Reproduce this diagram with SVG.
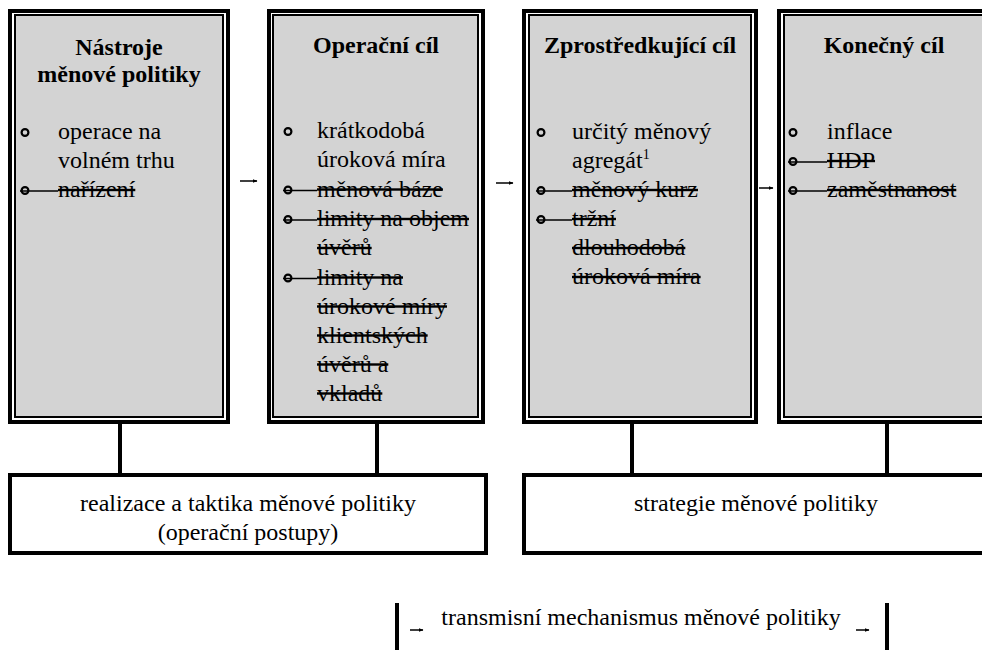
<svg xmlns="http://www.w3.org/2000/svg" width="982" height="650" viewBox="0 0 982 650">
<defs>
<style>
.t{font-family:"Liberation Serif","Times New Roman",serif;font-size:24px;fill:#000}
.b{font-weight:bold}
.m{text-anchor:middle}
.s{text-decoration:line-through}
.bul{fill:none;stroke:#000;stroke-width:2.2}
.sl{stroke:#000;stroke-width:1.5}
.outer{fill:none;stroke:#000;stroke-width:4}
.inner{fill:#d3d3d3;stroke:#000;stroke-width:2}
.con{stroke:#000;stroke-width:4;fill:none}
.arr{stroke:#000;stroke-width:1.5;fill:none;marker-end:url(#ah)}
.lbl{fill:#fff;stroke:#000;stroke-width:4}
</style>
<marker id="ah" viewBox="0 0 10 10" refX="9" refY="5" markerWidth="5" markerHeight="5" orient="auto" markerUnits="userSpaceOnUse"><path d="M0,1 L10,5 L0,9 z" fill="#000"/></marker>
</defs>
<rect width="982" height="650" fill="#fff"/>

<g id="connectors">
<line class="con" x1="120" y1="424" x2="120" y2="475"/>
<line class="con" x1="377" y1="424" x2="377" y2="475"/>
<line class="con" x1="632" y1="424" x2="632" y2="475"/>
<line class="con" x1="887" y1="424" x2="887" y2="475"/>
<line class="arr" x1="240" y1="181" x2="257" y2="181"/>
<line class="arr" x1="496" y1="183" x2="513" y2="183"/>
<line class="arr" x1="759" y1="188" x2="773" y2="188"/>
</g>

<g id="nastroje">
<rect class="outer" x="10" y="11" width="218" height="411"/>
<rect class="inner" x="15" y="15" width="208" height="402"/>
<text class="t b m" x="119" y="55">Nástroje</text>
<text class="t b m" x="119" y="82">měnové politiky</text>
<circle class="bul" cx="25" cy="132.5" r="3.4"/>
<text class="t" x="58" y="139">operace na</text>
<text class="t" x="58" y="168">volném trhu</text>
<circle class="bul" cx="25" cy="190.5" r="3.4"/>
<line class="sl" x1="20" y1="191" x2="58" y2="191"/>
<text class="t s" x="58" y="197">nařízení</text>
</g>

<g id="operacni-cil">
<rect class="outer" x="269" y="11" width="214" height="411"/>
<rect class="inner" x="273" y="15" width="205" height="402"/>
<text class="t b m" x="376" y="53">Operační cíl</text>
<circle class="bul" cx="288" cy="131.5" r="3.4"/>
<text class="t" x="317" y="138">krátkodobá</text>
<text class="t" x="317" y="167">úroková míra</text>
<circle class="bul" cx="288" cy="190" r="3.4"/>
<line class="sl" x1="283" y1="190.5" x2="317" y2="190.5"/>
<text class="t s" x="317" y="196.5">měnová báze</text>
<circle class="bul" cx="288" cy="219.5" r="3.4"/>
<line class="sl" x1="283" y1="220" x2="317" y2="220"/>
<text class="t s" x="317" y="226">limity na objem</text>
<text class="t s" x="317" y="255">úvěrů</text>
<circle class="bul" cx="288" cy="278" r="3.4"/>
<line class="sl" x1="283" y1="278.5" x2="317" y2="278.5"/>
<text class="t s" x="317" y="284.5">limity na</text>
<text class="t s" x="317" y="313.5">úrokové míry</text>
<text class="t s" x="317" y="342.5">klientských</text>
<text class="t s" x="317" y="371.5">úvěrů a</text>
<text class="t s" x="317" y="400.5">vkladů</text>
</g>

<g id="zprostredkujici-cil">
<rect class="outer" x="524" y="11" width="232" height="411"/>
<rect class="inner" x="529" y="15" width="222" height="402"/>
<text class="t b m" x="640" y="53">Zprostředkující cíl</text>
<circle class="bul" cx="541" cy="132.5" r="3.4"/>
<text class="t" x="572" y="139">určitý měnový</text>
<text class="t" x="572" y="168">agregát<tspan font-size="14" dy="-9">1</tspan></text>
<circle class="bul" cx="541" cy="190.5" r="3.4"/>
<line class="sl" x1="536" y1="191" x2="572" y2="191"/>
<text class="t s" x="572" y="197">měnový kurz</text>
<circle class="bul" cx="541" cy="219.5" r="3.4"/>
<line class="sl" x1="536" y1="220" x2="572" y2="220"/>
<text class="t s" x="572" y="226">tržní</text>
<text class="t s" x="572" y="255">dlouhodobá</text>
<text class="t s" x="572" y="284">úroková míra</text>
</g>

<g id="konecny-cil">
<rect class="outer" x="779" y="11" width="240" height="411"/>
<rect class="inner" x="784" y="15" width="230" height="402"/>
<text class="t b m" x="884" y="53">Konečný cíl</text>
<circle class="bul" cx="793" cy="132.5" r="3.4"/>
<text class="t" x="827" y="139">inflace</text>
<circle class="bul" cx="793" cy="161.5" r="3.4"/>
<line class="sl" x1="788" y1="162" x2="827" y2="162"/>
<text class="t s" x="827" y="168">HDP</text>
<circle class="bul" cx="793" cy="190.5" r="3.4"/>
<line class="sl" x1="788" y1="191" x2="827" y2="191"/>
<text class="t s" x="827" y="197">zaměstnanost</text>
</g>

<g id="realizace">
<rect class="lbl" x="10" y="475" width="476" height="78"/>
<text class="t m" x="248" y="511">realizace a taktika měnové politiky</text>
<text class="t m" x="248" y="540">(operační postupy)</text>
</g>

<g id="strategie">
<rect class="lbl" x="524" y="475" width="500" height="78"/>
<text class="t m" x="756" y="511">strategie měnové politiky</text>
</g>

<g id="transmise">
<line class="con" x1="397" y1="603" x2="397" y2="650"/>
<line class="con" x1="887" y1="603" x2="887" y2="650"/>
<line class="arr" x1="410" y1="630" x2="423" y2="630"/>
<text class="t m" x="641" y="625">transmisní mechanismus měnové politiky</text>
<line class="arr" x1="856" y1="630" x2="869" y2="630"/>
</g>
</svg>
